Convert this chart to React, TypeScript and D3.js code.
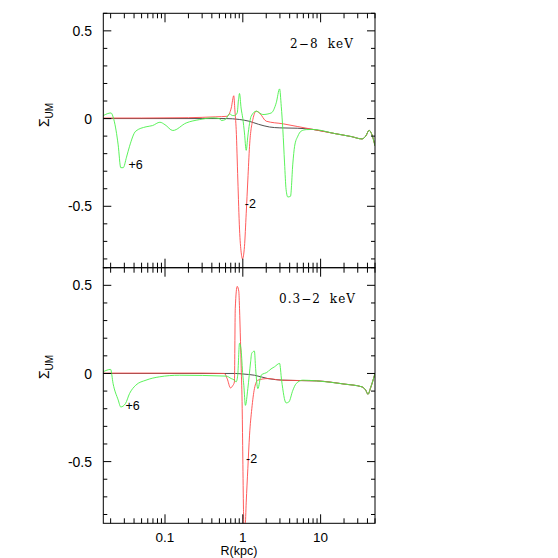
import React from "react";
import * as d3 from "d3";

// ---------- data (R in kpc, value of Sigma_UM) ----------
const trendTop: [number, number][] = [
  [8, -0.062], [15, -0.085], [25, -0.103], [34, -0.116], [38, -0.1], [42, -0.067], [45, -0.085], [50, -0.155],
];
const trendBot: [number, number][] = [
  [8.8, -0.042], [20, -0.06], [34, -0.076], [38, -0.095], [40.6, -0.118], [44, -0.08], [50, 0.0],
];

const topGray: [number, number][] = [
  [0.0161, 0], [0.3, 0], [0.6, 0.0], [0.9, -0.005], [1.2, -0.015], [1.6, -0.033], [2.2, -0.048], [3, -0.053], [5, -0.055],
  ...trendTop,
];
const topRed: [number, number][] = [
  [0.0161, 0.003], [0.05, 0.003], [0.2, 0.005], [0.45, 0.01], [0.63, 0.013], [0.71, 0.06], [0.765, 0.13], [0.79, 0.05],
  [0.822, -0.063], [0.863, -0.35], [0.907, -0.63], [0.954, -0.765], [0.99, -0.8], [1.05, -0.73], [1.106, -0.54],
  [1.16, -0.35], [1.22, -0.158], [1.345, -0.006], [1.49, 0.042], [1.65, 0.03], [2.0, -0.015], [3.3, -0.03], [5, -0.045],
  ...trendTop,
];
const topGreen: [number, number][] = [
  [0.0161, 0.017], [0.0202, 0.032], [0.022, -0.006], [0.025, -0.15], [0.027, -0.28], [0.029, -0.28], [0.032, -0.22],
  [0.035, -0.158], [0.042, -0.072], [0.057, -0.047], [0.069, -0.04], [0.086, -0.021], [0.1, -0.035], [0.126, -0.068],
  [0.187, -0.025], [0.277, -0.006], [0.41, 0.004], [0.5, 0.0], [0.53, -0.011], [0.6, -0.005], [0.674, 0.027],
  [0.74, 0.017], [0.78, 0.017], [0.847, 0.032], [0.88, 0.108], [0.907, 0.143], [0.95, 0.06], [1.0, 0.0],
  [1.05, -0.082], [1.106, -0.181], [1.16, -0.1], [1.28, 0.013], [1.49, 0.042], [1.81, 0.023], [2.32, 0.032],
  [2.69, 0.09], [2.97, 0.169], [3.12, 0.07], [3.27, -0.063], [3.44, -0.253], [3.6, -0.405], [3.79, -0.447],
  [4.1, -0.443], [4.4, -0.253], [4.63, -0.158], [5.1, -0.1], [5.6, -0.072], [6.55, -0.063], [8, -0.062],
  ...trendTop.slice(1),
];

const botGray: [number, number][] = [
  [0.0161, 0], [0.8, 0], [1.0, -0.003], [1.41, -0.01], [2.1, -0.029], [3.27, -0.038], [5, -0.04],
  ...trendBot,
];
const botRed: [number, number][] = [
  [0.0161, 0.002], [0.3, 0.002], [0.58, 0.0], [0.63, -0.03], [0.695, -0.082], [0.74, -0.07], [0.78, -0.048],
  [0.8, 0.37], [0.847, 0.494], [0.888, 0.466], [0.907, 0.37], [0.934, 0.18], [0.954, 0.03], [0.982, -0.2],
  [1.0, -0.48], [1.02, -0.77], [1.03, -0.86], [1.073, -0.86], [1.106, -0.73], [1.16, -0.54], [1.22, -0.35],
  [1.305, -0.2], [1.41, -0.086], [1.56, -0.038], [2.1, -0.029], [3.1, -0.038], [5.4, -0.04],
  ...trendBot,
];
const botGreen: [number, number][] = [
  [0.0161, 0.01], [0.02, 0.023], [0.0215, -0.057], [0.025, -0.15], [0.027, -0.19], [0.031, -0.171], [0.035, -0.114],
  [0.042, -0.067], [0.057, -0.038], [0.085, -0.019], [0.153, -0.01], [0.61, -0.015], [0.71, -0.029], [0.78, -0.038],
  [0.82, -0.048], [0.86, -0.01], [0.907, 0.171], [0.95, 0.133], [1.0, -0.01], [1.03, -0.067], [1.08, -0.181],
  [1.16, -0.086], [1.26, 0.066], [1.3, 0.114], [1.41, 0.127], [1.46, 0.029], [1.56, -0.086], [1.72, -0.01],
  [2.1, 0.01], [2.2, 0.019], [2.56, 0.038], [2.97, 0.057], [3.15, -0.038], [3.6, -0.167], [3.9, -0.162],
  [4.4, -0.095], [4.86, -0.057], [5.9, -0.038],
  ...trendBot,
];

const xTickLabels = [0.1, 1, 10];
const yTickLabels = [0.5, 0, -0.5];
const panelLabels = ["2\u22128 keV", "0.3\u22122 keV"];
const annotations = [
  { panel: 0, text: "+6", R: 0.034, v: -0.29 },
  { panel: 0, text: "-2", R: 1.06, v: -0.51 },
  { panel: 1, text: "+6", R: 0.031, v: -0.21 },
  { panel: 1, text: "-2", R: 1.1, v: -0.51 },
];

// ---------- layout ----------
const L = 103.3, Rt = 375;
const T1 = 13.3, B1 = 267.7, B2 = 523.3;

const x = d3.scaleLog().domain([0.0161, 50]).range([L, Rt]);
const yTop = d3.scaleLinear().domain([-0.85, 0.6]).range([B1, T1]);
const yBot = d3.scaleLinear().domain([-0.85, 0.6]).range([B2, B1]);

const xMinor: number[] = [];
for (let e = -2; e <= 1; e++) for (let m = 1; m <= 9; m++) {
  const v = m * Math.pow(10, e);
  if (v >= 0.0161 && v <= 50) xMinor.push(v);
}
const yMinor = d3.range(-8, 7).map((i) => i / 10);

const FONT = "'Liberation Sans', Arial, Helvetica, sans-serif";

function Panel({ y, idx, series, top, bottom }: any) {
  const line = d3.line<[number, number]>().x((d) => x(d[0])).y((d) => y(d[1])).curve(d3.curveMonotoneX);
  const clipId = `clip${idx}`;
  return (
    <g>
      <defs>
        <clipPath id={clipId}>
          <rect x={L} y={top} width={Rt - L} height={bottom - top} />
        </clipPath>
      </defs>
      <g clipPath={`url(#${clipId})`}>
        {series.map((s: any, i: number) => (
          <path key={i} d={line(s.data) || ""} fill="none" stroke={s.color} strokeWidth={s.w} />
        ))}
      </g>
      <rect x={L} y={top} width={Rt - L} height={bottom - top} fill="none" stroke="#000" strokeWidth={1} />
      {yMinor.map((v, i) => {
        const major = Math.abs(Math.round(v * 10) % 5) === 0;
        const len = major ? 8 : 4;
        const yy = y(v);
        return (
          <g key={i}>
            <line x1={L} x2={L + len} y1={yy} y2={yy} stroke="#000" />
            <line x1={Rt} x2={Rt - len} y1={yy} y2={yy} stroke="#000" />
          </g>
        );
      })}
      {xMinor.map((v, i) => {
        const major = Math.abs(Math.log10(v) - Math.round(Math.log10(v))) < 1e-6;
        const len = major ? 9 : 5;
        const xx = x(v);
        return (
          <g key={i}>
            <line x1={xx} x2={xx} y1={top} y2={top + len} stroke="#000" />
            <line x1={xx} x2={xx} y1={bottom} y2={bottom - len} stroke="#000" />
          </g>
        );
      })}
      {yTickLabels.map((v, i) => (
        <text key={i} x={92} y={y(v)} dy="0.36em" textAnchor="end" fontFamily={FONT} fontSize={14}>
          {v === 0 ? "0" : String(v)}
        </text>
      ))}
      <text transform={`translate(49,${idx === 0 ? 115 : 367}) rotate(-90)`} textAnchor="middle" fontFamily={FONT} fontSize={14}>
        <tspan>Σ</tspan>
        <tspan fontSize={10} dy={4}>UM</tspan>
      </text>
      <text x={idx === 0 ? 290 : 279} y={idx === 0 ? 47.5 : 302.5} fontFamily="'DejaVu Serif', 'Liberation Serif', serif" fontSize={12}
        textLength={idx === 0 ? 63 : 76} lengthAdjust="spacing" wordSpacing={4}>
        {panelLabels[idx]}
      </text>
      {annotations.filter((a) => a.panel === idx).map((a, i) => (
        <text key={i} x={x(a.R)} y={y(a.v)} fontFamily={FONT} fontSize={12.5}>{a.text}</text>
      ))}
    </g>
  );
}

export default function App() {
  const red = "#ff4848", green = "#48f048", gray = "#505050";
  return (
    <svg width={558} height={558} style={{ position: "absolute", left: 0, top: 0, background: "#fff" }}>
      <rect width={558} height={558} fill="#fff" />
      <Panel y={yTop} idx={0} top={T1} bottom={B1}
        series={[{ data: topGray, color: gray, w: 1 }, { data: topRed, color: red, w: 0.9 }, { data: topGreen, color: green, w: 0.9 }]} />
      <Panel y={yBot} idx={1} top={B1} bottom={B2}
        series={[{ data: botGray, color: gray, w: 1 }, { data: botRed, color: red, w: 0.9 }, { data: botGreen, color: green, w: 0.9 }]} />
      {xTickLabels.map((v, i) => (
        <text key={i} x={x(v)} y={542} textAnchor="middle" fontFamily={FONT} fontSize={13.5}>{String(v)}</text>
      ))}
      <text x={239} y={554.5} textAnchor="middle" fontFamily={FONT} fontSize={12.5}>R(kpc)</text>
    </svg>
  );
}
